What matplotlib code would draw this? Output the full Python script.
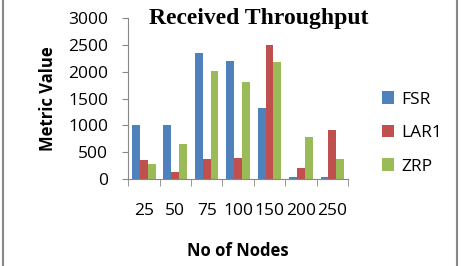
import numpy as np
import matplotlib.pyplot as plt
from matplotlib.lines import Line2D

nodes = ["25", "50", "75", "100", "150", "200", "250"]
fsr = [1000, 1000, 2350, 2200, 1320, 30, 30]
lar1 = [360, 140, 380, 400, 2490, 200, 920]
zrp = [280, 660, 2020, 1800, 2190, 790, 370]

plt.rcParams['font.family'] = ['Open Sans', 'DejaVu Sans']

fig = plt.figure(figsize=(4.61, 2.66), dpi=100)
ax = fig.add_axes([0.278, 0.327, 0.477, 0.605])

x = np.arange(len(nodes))
w = 0.25
ax.bar(x - w, fsr, w, color="#4F81BD", label="FSR")
ax.bar(x, lar1, w, color="#C0504D", label="LAR1")
ax.bar(x + w, zrp, w, color="#9BBB59", label="ZRP")

ax.set_xlim(-0.5, len(nodes) - 0.5)
ax.set_ylim(0, 3000)
ax.set_yticks(range(0, 3001, 500))
ax.set_xticks(x)
ax.set_xticklabels(nodes)
ax.set_xticks(np.arange(-0.5, len(nodes)), minor=True)
ax.tick_params(axis="x", which="major", length=0, pad=17, labelsize=12.5)
ax.tick_params(axis="x", which="minor", length=5, color="#888888")
ax.tick_params(axis="y", length=4.5, color="#888888", labelsize=12.5, pad=10)
for s in ["top", "right"]:
    ax.spines[s].set_visible(False)
ax.spines["left"].set_color("#888888")
ax.spines["bottom"].set_color("#888888")

ax.set_ylabel("Metric Value", fontweight="bold", fontsize=12, labelpad=8)
ax.set_xlabel("No of Nodes", fontweight="bold", fontsize=12, labelpad=17)
fig.text(0.562, 0.932, "Received Throughput", family="Liberation Serif",
         fontweight="bold", fontsize=17, ha="center", va="center")

ax.legend(loc="center left", bbox_to_anchor=(0.795, 0.5),
          bbox_transform=fig.transFigure, frameon=False,
          fontsize=12.5, handlelength=0.7, handleheight=0.7, labelspacing=1.0,
          handletextpad=0.4)

fig.add_artist(Line2D([0.007, 0.007], [0, 1], color="#888888", lw=1.5))
fig.add_artist(Line2D([0.991, 0.991], [0, 1], color="#888888", lw=1.5))

fig.savefig("out.png", dpi=100)
